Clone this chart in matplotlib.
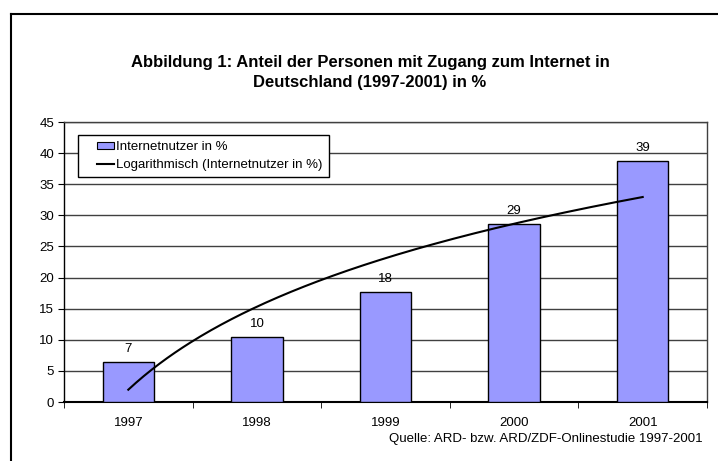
import numpy as np
import matplotlib
matplotlib.use('Agg')
import matplotlib.pyplot as plt
from matplotlib.lines import Line2D
from matplotlib.patches import Rectangle

plt.rcParams['font.family'] = ['Liberation Sans', 'DejaVu Sans']

# Daten (ARD/ZDF-Onlinestudie)
years = ['1997', '1998', '1999', '2000', '2001']
nutzer = [6.5, 10.4, 17.7, 28.6, 38.8]
nutzer_labels = ['7', '10', '18', '29', '39']

W, H = 718, 461
FS = 9.5
fig = plt.figure(figsize=(W / 100, H / 100), dpi=100)

# Rahmen (rechts und unten abgeschnitten)
fig.add_artist(Line2D([11 / W, 11 / W], [0, 1 - 14 / H], color='black', lw=1.5,
                      transform=fig.transFigure))
fig.add_artist(Line2D([11 / W, 1], [1 - 14 / H, 1 - 14 / H], color='black', lw=1.5,
                      transform=fig.transFigure))

# Plotbereich
left, right, top, bottom = 64, 707, 122, 402
ax = fig.add_axes([left / W, 1 - bottom / H, (right - left) / W, (bottom - top) / H])

x = np.arange(len(years))
bars = ax.bar(x, nutzer, width=0.4, color='#9999FF', edgecolor='black', linewidth=1.0,
              label='Internetnutzer in %', zorder=3)

for xi, v, lab in zip(x, nutzer, nutzer_labels):
    ax.annotate(lab, (xi, v), xytext=(0, 5), textcoords='offset points',
                ha='center', va='bottom', fontsize=FS, zorder=5)

# logarithmischer Trend (wie Excel: y = a*ln(x) + b)
a, b = np.polyfit(np.log(x + 1), nutzer, 1)
xs = np.linspace(0, len(years) - 1, 200)
trend, = ax.plot(xs, a * np.log(xs + 1) + b, color='black', lw=1.5,
                 label='Logarithmisch (Internetnutzer in %)', zorder=4)

ax.set_xlim(-0.5, len(years) - 0.5)
ax.set_ylim(0, 45)
ax.set_yticks(np.arange(0, 46, 5))
ax.set_xticks(x)
ax.set_xticklabels(years)
ax.set_xticks(np.arange(-0.5, len(years), 1), minor=True)
ax.tick_params(axis='x', which='major', length=0, pad=11, labelsize=FS)
ax.tick_params(axis='x', which='minor', length=4, direction='out', color='black')
ax.tick_params(axis='y', length=4, direction='out', labelsize=FS, pad=3)
ax.grid(axis='y', color='#404040', lw=1.0, zorder=1)
ax.set_axisbelow(True)
for s in ['top', 'right']:
    ax.spines[s].set_color('#404040')
    ax.spines[s].set_linewidth(1.0)
ax.spines['left'].set_linewidth(1.0)
ax.spines['bottom'].set_linewidth(1.5)


# Legendensymbole rechtsbuendig im Handle-Feld (wie Excel)
class PatchRight:
    def legend_artist(self, legend, orig_handle, fontsize, handlebox):
        w, h = handlebox.width, handlebox.height
        r = Rectangle((w - 12.5, h / 2 - 2.8), 12.5, 5.6, facecolor='#9999FF',
                      edgecolor='black', lw=0.8)
        handlebox.add_artist(r)
        return r


class LineRight:
    def legend_artist(self, legend, orig_handle, fontsize, handlebox):
        w, h = handlebox.width, handlebox.height
        ln = Line2D([w - 12.5, w], [h / 2, h / 2], color='black', lw=1.5)
        handlebox.add_artist(ln)
        return ln


leg = ax.legend([bars, trend], ['Internetnutzer in %', 'Logarithmisch (Internetnutzer in %)'],
                handler_map={bars: PatchRight(), trend: LineRight()},
                loc='upper left', bbox_to_anchor=(14 / (right - left), 1 - 13 / (bottom - top)),
                fontsize=FS, frameon=True, fancybox=False, edgecolor='black', framealpha=1,
                borderpad=0.45, handlelength=2.3, handletextpad=0.15, labelspacing=0.45,
                borderaxespad=0)
leg.get_frame().set_linewidth(1.0)

fig.text(370 / W, 1 - 72.5 / H,
         'Abbildung 1: Anteil der Personen mit Zugang zum Internet in\nDeutschland (1997-2001) in %',
         ha='center', va='center', fontsize=12, fontweight='bold', linespacing=1.45)

fig.text(703 / W, 1 - 439 / H, 'Quelle: ARD- bzw. ARD/ZDF-Onlinestudie 1997-2001',
         ha='right', va='center', fontsize=FS)

fig.savefig('out.png', dpi=100)
